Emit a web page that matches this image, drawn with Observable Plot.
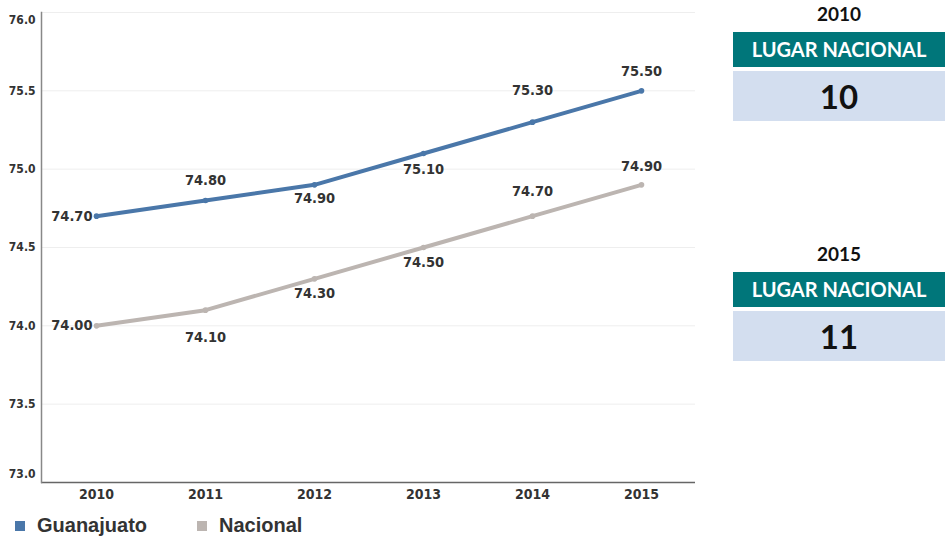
<!DOCTYPE html>
<html>
<head>
<meta charset="utf-8">
<script src="https://cdn.jsdelivr.net/npm/d3@7"></script>
<script src="https://cdn.jsdelivr.net/npm/@observablehq/plot@0.6"></script>
<style>
  html, body { margin: 0; padding: 0; background: #fff; }
  #wrap { position: relative; width: 945px; height: 539px; overflow: hidden; }
  #chart { position: absolute; left: 0; top: 0; }
  #legend { position: absolute; left: 15px; top: 514px; font-family: "Liberation Sans", Arial, sans-serif; font-weight: bold; font-size: 20px; color: #333; display: flex; }
  .li { display: flex; align-items: center; }
  .sw { width: 10px; height: 10px; margin-right: 12px; }
  .panel { position: absolute; left: 733px; width: 212px; font-family: Lato, "Open Sans", sans-serif; font-weight: bold; text-align: center; }
  .yr { position: absolute; width: 212px; font-size: 19px; color: #111; }
  .hd { position: absolute; width: 212px; height: 35px; line-height: 35px; background: #00767a; color: #fff; font-size: 20px; }
  .val { position: absolute; width: 212px; height: 50px; line-height: 50px; background: #d3deef; color: #111; font-size: 33px; }
</style>
</head>
<body>
<div id="wrap">
  <div id="chart"></div>
  <div id="legend"></div>
  <div id="panels"></div>
</div>
<script>
const years = [2010, 2011, 2012, 2013, 2014, 2015];
const guanajuato = [74.70, 74.80, 74.90, 75.10, 75.30, 75.50];
const nacional = [74.00, 74.10, 74.30, 74.50, 74.70, 74.90];
const seriesNames = ["Guanajuato", "Nacional"];
const yTicks = [73.0, 73.5, 74.0, 74.5, 75.0, 75.5, 76.0];
const rankYears = [2010, 2015];
const rankValues = [10, 11];
const rankHeader = "LUGAR NACIONAL";

const colors = {Guanajuato: "#4a77a9", Nacional: "#bcb5b1"};
// label vertical placement (style, not data)
const labelDy = {
  Guanajuato: [0, -20, 14, 16, -32, -19],
  Nacional: [0, 27, 15, 15, -25, -18]
};

const rows = [];
years.forEach((yr, i) => {
  rows.push({year: yr, value: guanajuato[i], series: "Guanajuato", i});
  rows.push({year: yr, value: nacional[i], series: "Nacional", i});
});
const leftLab = rows.filter(d => d.i === 0);
const otherLab = rows.filter(d => d.i !== 0);
const dyGroups = d3.group(otherLab, d => labelDy[d.series][d.i]);

const numFont = '"DejaVu Sans Condensed", "Liberation Sans", Arial, sans-serif';
const lblStyle = {fontSize: 14.5, fontWeight: "bold", fill: "#333"};
const tickStyle = {tickSize: 0, tickPadding: 6, tickFormat: d => d.toFixed(1), fontSize: 12, fontWeight: "bold", fill: "#333"};

const chart = Plot.plot({
  width: 700,
  height: 505,
  marginTop: 12,
  marginBottom: 23,
  marginLeft: 41,
  marginRight: 5,
  style: {fontFamily: numFont, background: "#fff"},
  x: {type: "point", domain: years, padding: 0.5, label: null},
  y: {domain: [73, 76], label: null},
  marks: [
    Plot.gridY(yTicks, {stroke: "#eeeeee", strokeOpacity: 1}),
    Plot.axisY(yTicks.filter(t => t > 73 && t < 76), tickStyle),
    Plot.axisY([76], {...tickStyle, dy: 8}),
    Plot.axisY([73], {...tickStyle, dy: -8}),
    Plot.axisX(years, {tickSize: 0, tickPadding: 7, tickFormat: d => String(d), fontSize: 14, fontWeight: "bold", fill: "#333"}),
    Plot.ruleY([73], {stroke: "#666", strokeWidth: 1.5}),
    Plot.frame({anchor: "left", stroke: "#888", strokeWidth: 1.5}),
    Plot.line(rows, {x: "year", y: "value", z: "series", stroke: d => colors[d.series], strokeWidth: 4}),
    Plot.dot(rows, {x: "year", y: "value", fill: d => colors[d.series], r: 2.8}),
    Plot.text(leftLab, {x: "year", y: "value", text: d => d.value.toFixed(2), textAnchor: "end", dx: -4, ...lblStyle}),
    ...Array.from(dyGroups, ([dy, arr]) =>
      Plot.text(arr, {x: "year", y: "value", text: d => d.value.toFixed(2), dy, ...lblStyle}))
  ]
});
document.getElementById("chart").appendChild(chart);

// legend
const legend = document.getElementById("legend");
seriesNames.forEach((s, k) => {
  const li = document.createElement("div");
  li.className = "li";
  li.style.marginRight = k === 0 ? "50px" : "0";
  li.innerHTML = `<span class="sw" style="background:${colors[s]}"></span><span>${s}</span>`;
  legend.appendChild(li);
});

// ranking panels
const panels = document.getElementById("panels");
const tops = [0, 240];
rankYears.forEach((yr, k) => {
  const p = document.createElement("div");
  p.className = "panel";
  p.style.top = tops[k] + "px";
  p.innerHTML = `<div class="yr" style="top:2px">${yr}</div>
    <div class="hd" style="top:32px">${rankHeader}</div>
    <div class="val" style="top:71px">${rankValues[k]}</div>`;
  panels.appendChild(p);
});
</script>
</body>
</html>
